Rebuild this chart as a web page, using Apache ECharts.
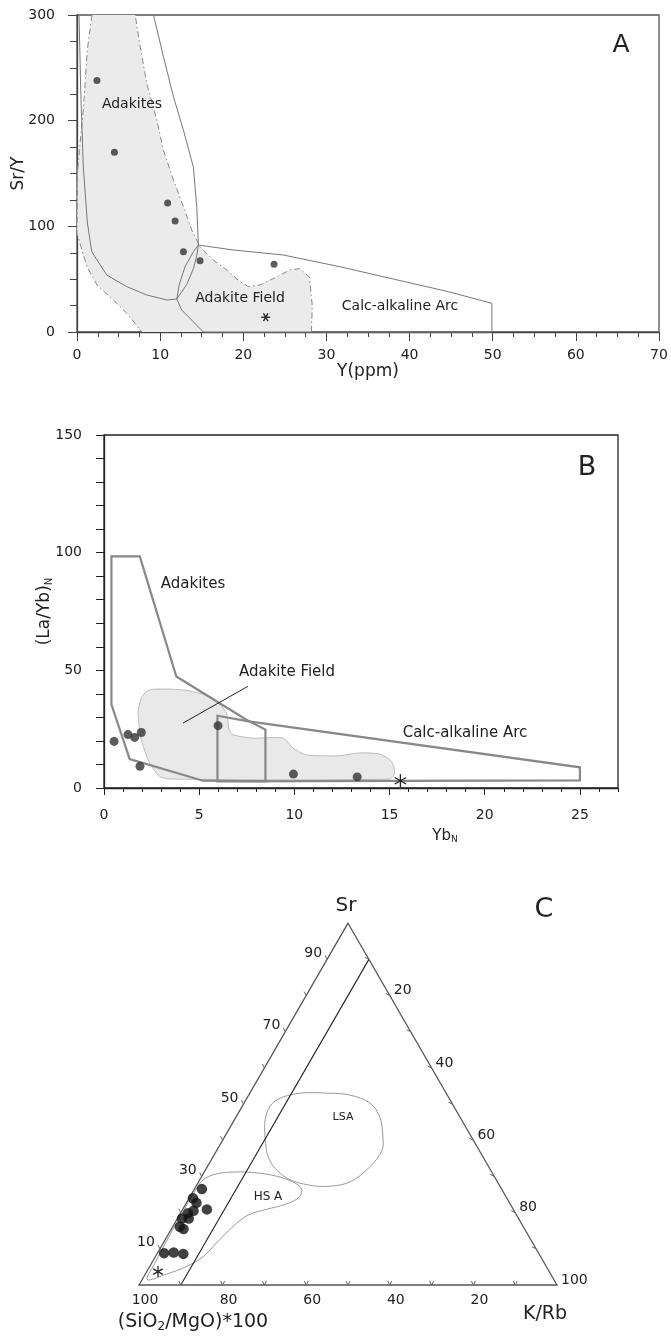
<!DOCTYPE html>
<html><head><meta charset="utf-8">
<script src="https://cdn.jsdelivr.net/npm/echarts@6.0.0/dist/echarts.min.js"></script>
<style>html,body{margin:0;padding:0;background:#fff}#c{width:671px;height:1337px}</style>
</head><body><div id="c"></div>
<script>
// ---------- Panel A data: Sr/Y vs Y(ppm) ----------
const aY   = [2.4, 4.5, 10.9, 11.8, 12.8, 14.8, 23.7];
const aSrY = [238, 170, 122, 105, 76, 67.5, 64];
const aStar = [22.7, 14];
const aShadeLeft = [[1.8,300],[1.24,267],[0.76,210],[0.36,178],[0.06,152],[0,93],[1.2,62],[2.4,44.5],[4.4,30],[6.0,17.7],[7.8,0]];
const aShadeRight = [[28.2,0],[28.3,25],[27.95,52],[26.8,60],[25.6,58.7],[24,52],[22,44.5],[20.6,43],[19.4,49],[18,58.7],[16.4,68],[14.8,80.7],[13.8,96.5],[12.8,118.6],[11.6,143.8],[10.4,172],[9.6,200.6],[8.4,235],[7.6,270],[7.0,300]];
const aAdakites = [[0.24,300],[0.48,220],[0.76,156],[1.24,104],[1.77,76],[3.57,54],[5.98,43],[8.4,35],[10.8,30.3],[12.0,31.2],[13.2,45],[14.0,60],[14.4,72],[14.6,82.3],[14.4,118.6],[14.0,156],[12.8,191],[11.6,222.7],[10.4,260.5],[9.2,300]];
const aCalc = [[14.6,82.3],[14.0,76],[13.0,62],[12.3,45],[12.0,31.2],[12.6,20.8],[14.0,9.7],[15.2,0],[49.9,0],[49.9,27.1],[44.7,38.1],[31.6,61.8],[24.8,72.9],[18.8,77.6],[14.6,82.3]];
const aXTicks = [0,70,10];
const aYTicks = [0,300,100];

// ---------- Panel B data: (La/Yb)N vs YbN ----------
const bYb   = [0.53, 1.26, 1.61, 1.96, 1.89, 5.99, 9.95, 13.3];
const bLaYb = [19.8, 22.7, 21.5, 23.6, 9.2, 26.5, 5.9, 4.7];
const bStar = [15.57, 3.1];
const bAdakites = [[0.39,98.4],[1.88,98.4],[3.8,47.4],[7.48,29],[8.48,24.8],[8.48,2.8],[5.2,3.1],[1.35,12.3],[0.39,35.4]];
const bCalc = [[5.96,30.7],[7.6,28.3],[25,8.8],[25,3.2],[5.96,2.8]];
const bShade = [[2.23,41],[2.6,42],[4.33,41.5],[5.72,38.2],[6.43,31.9],[6.57,24.8],[6.78,22.6],[7.83,21.2],[9.4,21.2],[9.93,17],[10.54,14.2],[11.33,13.7],[12.38,13.7],[13.43,14.9],[14.48,14.4],[15.1,11.3],[15.27,6.4],[15.0,3.8],[3.6,3.8],[2.93,4.9],[2.4,10.6],[1.96,20.5],[1.79,31.9],[1.96,38.2]];
const bLeader = [[7.56,43.2],[4.15,27.6]];
const bXMajor = [0,5,10,15,20,25];

// ---------- Panel C data: ternary Sr - K/Rb - (SiO2/MgO)*100 ----------
const cSr  = [26.5, 24.0, 22.7, 20.5, 20.9, 19.8, 18.4, 18.4, 16.1, 15.5, 8.8, 9.0, 8.6];
const cKRb = [1.8, 0.9, 2.4, 2.8, 5.8, 1.8, 1.1, 2.7, 1.7, 2.9, 1.6, 3.8, 6.3];
const cStar = [3.7, 2.7]; // [Sr, K/Rb]
const cLSA = [[53.0,19.1],[52.5,24.2],[50.3,30.1],[46.4,34.4],[40.9,37.9],[37.3,39.5],[32.6,38.9],[28.5,36.2],[27.3,31.9],[27.6,27.0],[29.6,20.5],[34.5,14.0],[42.0,9.1],[47.5,6.8],[51.1,7.3],[53.0,12.0]];
const cHSA = [[31.2,6.9],[30.7,3.2],[29.0,0.8],[25,0.4],[20,0.4],[12,0.5],[6,0.8],[1.5,1.2],[3.0,5.1],[5.1,8.8],[7.8,11.4],[11.5,12.7],[16.1,14.4],[19.3,16.4],[20.9,20.0],[22.4,24.1],[24.4,26.2],[26.7,25.5],[28.5,22.5],[30.1,17.8],[31.1,11.7]];
const cDivider = [[0,10],[90,10]]; // K/Rb = 10 line, [Sr, K/Rb]
const cTickVals = [10,20,30,40,50,60,70,80,90];
const cLeftLabels = [10,30,50,70,90];      // Sr
const cRightLabels = [20,40,60,80,100];    // K/Rb
const cBottomLabels = [100,80,60,40,20];   // (SiO2/MgO)*100

const FONT = 'DejaVu Sans';
const S3 = Math.sqrt(3)/2;
function tern(s, k){ return [k/100 + s/200, s/100*S3]; }

function customPoly(gi, pts, style, opts){
  opts = opts || {};
  return {type:'custom', xAxisIndex:gi, yAxisIndex:gi, data:[[0,0]], silent:true, clip:false, z:opts.z||2,
    renderItem:function(p, api){
      return {type: opts.closed ? 'polygon' : 'polyline',
        shape:{points: pts.map(q=>api.coord(q)), smooth: opts.smooth||0},
        style: Object.assign({fill:null}, style)};
    }};
}
function starSeries(gi, pt, angles, r, z){
  return {type:'custom', xAxisIndex:gi, yAxisIndex:gi, data:[pt], silent:true, clip:false, z:z||5,
    renderItem:function(p, api){
      const c = api.coord([api.value(0), api.value(1)]);
      return {type:'group', children: angles.map(a=>{
        const t=a*Math.PI/180, dx=r*Math.cos(t), dy=r*Math.sin(t);
        return {type:'line', shape:{x1:c[0]-dx,y1:c[1]-dy,x2:c[0]+dx,y2:c[1]+dy}, style:{stroke:'#222', lineWidth:1.3}};
      })};
    }};
}

const axisLine = c => ({show:true, lineStyle:{color:c, width:1.3}});
const lbl = {color:'#222', fontSize:14, fontFamily:FONT};
const gridBase = {containLabel:false, outerBoundsMode:'none'};

const option = {
  animation:false,
  backgroundColor:'#fff',
  textStyle:{fontFamily:FONT},
  grid:[
    Object.assign({left:77, top:15, width:582, height:317, show:true, borderColor:'#555', borderWidth:1.3, backgroundColor:'transparent'}, gridBase),
    Object.assign({left:104, top:435, width:514, height:353, show:true, borderColor:'#222', borderWidth:1.3, backgroundColor:'transparent'}, gridBase),
    Object.assign({left:139, top:909, width:418, height:376, show:false}, gridBase)
  ],
  xAxis:[
    {gridIndex:0, type:'value', min:aXTicks[0], max:aXTicks[1], interval:aXTicks[2],
     axisLine:axisLine('#444'), axisTick:{length:9, lineStyle:{color:'#444'}},
     minorTick:{show:true, splitNumber:4, length:5, lineStyle:{color:'#444'}},
     splitLine:{show:false}, axisLabel:Object.assign({margin:16}, lbl),
     name:'Y(ppm)', nameLocation:'middle', nameGap:31, nameMoveOverlap:false, nameTextStyle:{fontSize:17, color:'#222', fontFamily:FONT}},
    {gridIndex:1, type:'value', min:0, max:27, interval:1,
     axisLine:axisLine('#222'), axisTick:{length:7, customValues:bXMajor, lineStyle:{color:'#222'}},
     splitLine:{show:false}, axisLabel:Object.assign({margin:20, customValues:bXMajor}, lbl)},
    {gridIndex:2, type:'value', min:0, max:1, show:false},
    {gridIndex:1, type:'value', min:0, max:27, interval:1, position:'bottom',
     axisLine:{show:false}, axisTick:{length:4, lineStyle:{color:'#222'}}, axisLabel:{show:false}, splitLine:{show:false}}
  ],
  yAxis:[
    {gridIndex:0, type:'value', min:aYTicks[0], max:aYTicks[1], interval:aYTicks[2],
     axisLine:axisLine('#444'), axisTick:{length:9, lineStyle:{color:'#444'}},
     minorTick:{show:true, splitNumber:4, length:7, lineStyle:{color:'#444'}},
     splitLine:{show:false}, axisLabel:Object.assign({margin:22}, lbl),
     name:'Sr/Y', nameLocation:'middle', nameGap:50, nameMoveOverlap:false, nameTextStyle:{fontSize:17, color:'#222', fontFamily:FONT}},
    {gridIndex:1, type:'value', min:0, max:150, interval:50,
     axisLine:axisLine('#222'), axisTick:{length:8, lineStyle:{color:'#222'}},
     minorTick:{show:true, splitNumber:5, length:8, lineStyle:{color:'#222'}},
     splitLine:{show:false}, axisLabel:Object.assign({margin:22}, lbl),
     name:'(La/Yb){s|N}', nameLocation:'middle', nameGap:50, nameMoveOverlap:false,
     nameTextStyle:{fontSize:17, color:'#222', fontFamily:FONT, rich:{s:{fontSize:10, color:'#222', fontFamily:FONT, padding:[9,0,0,0]}}}},
    {gridIndex:2, type:'value', min:0, max:0.9, show:false}
  ],
  series:[
    // ----- Panel A -----
    customPoly(0, aShadeLeft.concat(aShadeRight), {fill:'#ebebeb', stroke:null}, {closed:true, z:1}),
    customPoly(0, aShadeLeft, {stroke:'#888', lineWidth:1, lineDash:[6,3,1.5,3]}, {z:2}),
    customPoly(0, aShadeRight, {stroke:'#888', lineWidth:1, lineDash:[6,3,1.5,3]}, {z:2}),
    customPoly(0, aAdakites, {stroke:'#777', lineWidth:1}, {z:3}),
    customPoly(0, aCalc, {stroke:'#777', lineWidth:1}, {z:3}),
    {type:'scatter', xAxisIndex:0, yAxisIndex:0, symbolSize:7, itemStyle:{color:'#333'}, z:5, silent:true,
     data: aY.map((x,i)=>[x, aSrY[i]])},
    starSeries(0, aStar, [0,60,120], 4.5),
    // ----- Panel B -----
    customPoly(1, bShade, {fill:'#e9e9e9', stroke:'#bdbdbd', lineWidth:1}, {closed:true, z:1, smooth:0.25}),
    customPoly(1, bAdakites, {stroke:'#888', lineWidth:2.2}, {closed:true, z:3}),
    customPoly(1, bCalc, {stroke:'#888', lineWidth:2.2}, {closed:true, z:3}),
    customPoly(1, bLeader, {stroke:'#222', lineWidth:1}, {z:3}),
    {type:'scatter', xAxisIndex:1, yAxisIndex:1, symbolSize:9, itemStyle:{color:'#333'}, z:5, silent:true,
     data: bYb.map((x,i)=>[x, bLaYb[i]])},
    starSeries(1, bStar, [90,30,150], 6.5),
    // ----- Panel C -----
    customPoly(2, [tern(100,0), tern(0,0), tern(0,100)], {stroke:'#555', lineWidth:1.3}, {closed:true, z:3}),
    customPoly(2, cDivider.map(p=>tern(p[0],p[1])), {stroke:'#222', lineWidth:1.1}, {z:3}),
    customPoly(2, cLSA.map(p=>tern(p[0],p[1])), {stroke:'#999', lineWidth:1}, {closed:true, z:2, smooth:0.35}),
    customPoly(2, cHSA.map(p=>tern(p[0],p[1])), {stroke:'#999', lineWidth:1}, {closed:true, z:2, smooth:0.35}),
    {type:'custom', xAxisIndex:2, yAxisIndex:2, data:[[0,0]], silent:true, clip:false, z:4,
     renderItem:function(p, api){
       const ch = [];
       const tk = (a,b)=>({type:'line', shape:{x1:a[0],y1:a[1],x2:b[0],y2:b[1]}, style:{stroke:'#666', lineWidth:1}});
       const tx = (t,pt,al)=>({type:'text', x:pt[0], y:pt[1], style:{text:String(t), fill:'#222', font:'14px '+FONT, align:al, textAlign:al, verticalAlign:'middle', textVerticalAlign:'middle'}});
       cTickVals.forEach(v=>{
         const l = api.coord(tern(v,0));   ch.push(tk(l,[l[0]-2,l[1]-4]));
         const r = api.coord(tern(100-v,v)); ch.push(tk(r,[r[0]-4,r[1]-2]));
         const b = api.coord(tern(0,v));   ch.push(tk(b,[b[0]-2,b[1]-4]), tk(b,[b[0]+2,b[1]-4]));
       });
       cLeftLabels.forEach(v=>{ const l=api.coord(tern(v,0)); ch.push(tx(v,[l[0]-5,l[1]-6],'right')); });
       cRightLabels.forEach(v=>{ const r=api.coord(tern(100-v,v)); ch.push(tx(v,[r[0]+4,r[1]-5],'left')); });
       cBottomLabels.forEach(v=>{ const b=api.coord(tern(0,100-v)); ch.push(tx(v,[b[0]+6,b[1]+15],'center')); });
       return {type:'group', children:ch};
     }},
    {type:'scatter', xAxisIndex:2, yAxisIndex:2, symbolSize:10.5, itemStyle:{color:'#111'}, z:5, silent:true,
     data: cSr.map((s,i)=>tern(s, cKRb[i]))},
    starSeries(2, tern(cStar[0], cStar[1]), [90,30,150], 5.5)
  ],
  graphic:[]
};

function T(x,y,text,size,extra){
  option.graphic.push(Object.assign({type:'text', x:x, y:y, silent:true, z:10,
    style:Object.assign({text:text, fill:'#222', font:size+'px '+FONT, align:'center', textAlign:'center', verticalAlign:'middle', textVerticalAlign:'middle'}, extra||{})}));
}
T(621,45,'A',25);
T(132,104,'Adakites',14);
T(240,298,'Adakite Field',14);
T(400,306,'Calc-alkaline Arc',14);
T(587,468,'B',27);
T(193,584,'Adakites',15);
T(287,672,'Adakite Field',15);
T(465,733,'Calc-alkaline Arc',15);
T(445,836,'Yb{s|N}',15,{rich:{s:{fontSize:9, fill:'#222', fontFamily:FONT, padding:[8,0,0,0]}}});
T(346,906,'Sr',20);
T(544,910,'C',27);
T(343,1117,'LSA',11);
T(268,1197,'HS A',12);
T(193,1322,'(SiO{s|2}/MgO)*100',19,{rich:{s:{fontSize:12, fill:'#222', fontFamily:FONT, padding:[9,0,0,0]}}});
T(545,1314,'K/Rb',19);

const chart = echarts.init(document.getElementById('c'), null, {renderer:'canvas'});
chart.setOption(option);
</script></body></html>
